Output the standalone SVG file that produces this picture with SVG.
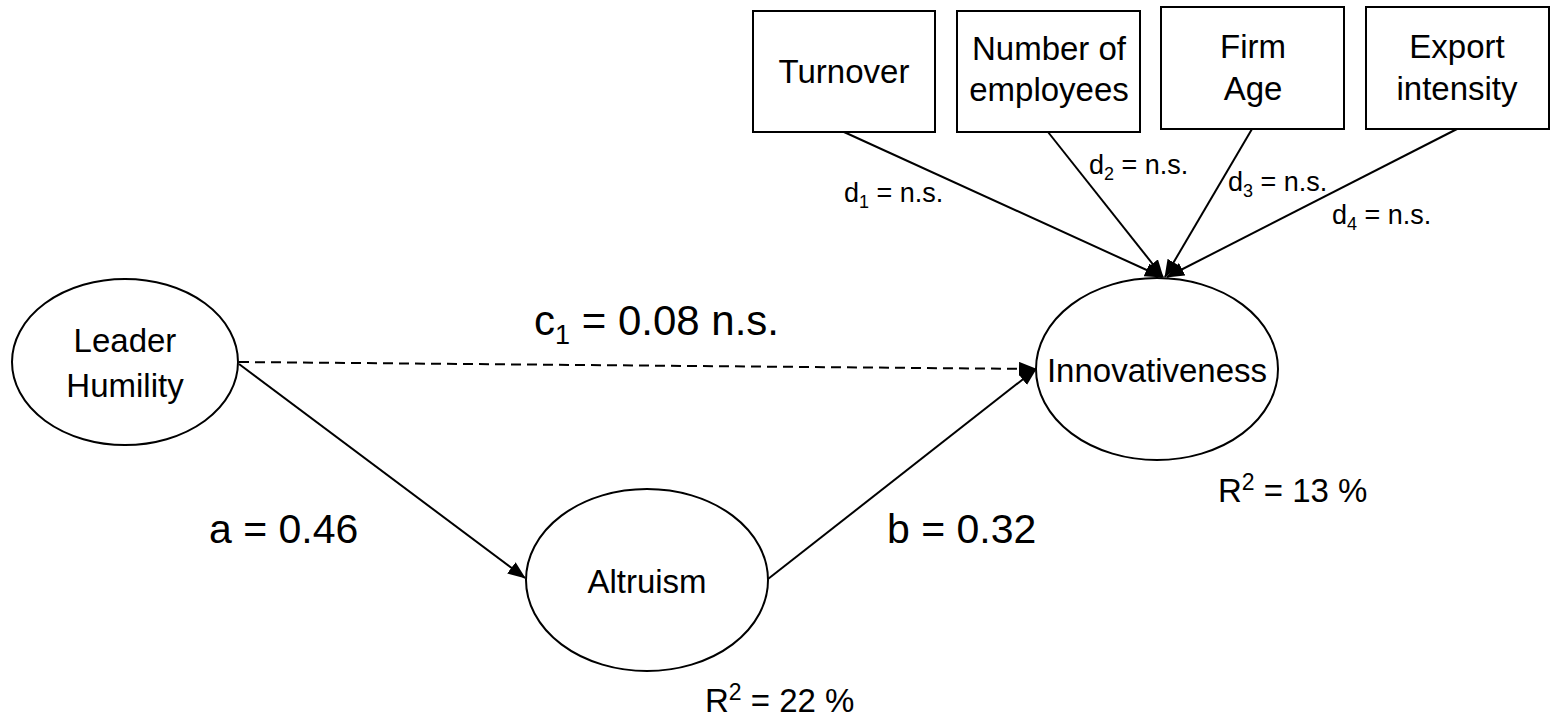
<svg xmlns="http://www.w3.org/2000/svg" width="1556" height="721" viewBox="0 0 1556 721">
<style>
  .box { fill: #fff; stroke: #000; stroke-width: 2; }
  .ell { fill: #fff; stroke: #000; stroke-width: 2; }
  .node { font-family: "Liberation Sans", Arial, sans-serif; font-size: 33px; fill: #000; text-anchor: middle; }
  .lbl { font-family: "Liberation Sans", Arial, sans-serif; fill: #000; }
  .edge { stroke: #000; stroke-width: 2; fill: none; marker-end: url(#arrow); }
  .dash { stroke-dasharray: 10 6; }
</style>
<defs>
  <marker id="arrow" markerUnits="userSpaceOnUse" viewBox="0 0 18 14" markerWidth="18" markerHeight="14" refX="17" refY="7" orient="auto">
    <path d="M0,0 L18,7 L0,14 z" fill="#000" stroke="none"/>
  </marker>
</defs>
<rect width="1556" height="721" fill="#fff"/>

<g id="connectors">
  <line class="edge dash" x1="239" y1="362" x2="1036" y2="369"/>
  <line class="edge" x1="239" y1="364" x2="525" y2="578"/>
  <line class="edge" x1="768" y1="579" x2="1036" y2="369"/>
  <line class="edge" x1="844" y1="132" x2="1162" y2="277"/>
  <line class="edge" x1="1048" y1="132" x2="1163" y2="277"/>
  <line class="edge" x1="1252" y1="129" x2="1165" y2="277"/>
  <line class="edge" x1="1457" y1="129" x2="1167" y2="277"/>
</g>

<g id="node-turnover">
  <rect class="box" x="753" y="11" width="182" height="121"/>
  <text class="node" x="844" y="83">Turnover</text>
</g>
<g id="node-employees">
  <rect class="box" x="957" y="11" width="183" height="121"/>
  <text class="node" x="1049" y="60">Number of</text>
  <text class="node" x="1049" y="101">employees</text>
</g>
<g id="node-firmage">
  <rect class="box" x="1161" y="7" width="183" height="122"/>
  <text class="node" x="1253" y="58">Firm</text>
  <text class="node" x="1253" y="100">Age</text>
</g>
<g id="node-export">
  <rect class="box" x="1366" y="7" width="183" height="122"/>
  <text class="node" x="1457" y="58">Export</text>
  <text class="node" x="1457" y="100">intensity</text>
</g>

<g id="node-leader">
  <ellipse class="ell" cx="125" cy="362" rx="113" ry="83"/>
  <text class="node" x="125" y="352">Leader</text>
  <text class="node" x="125" y="397">Humility</text>
</g>
<g id="node-altruism">
  <ellipse class="ell" cx="647" cy="580" rx="121" ry="91"/>
  <text class="node" x="647" y="593">Altruism</text>
</g>
<g id="node-innovativeness">
  <ellipse class="ell" cx="1157" cy="369" rx="121" ry="91"/>
  <text class="node" x="1157" y="382">Innovativeness</text>
</g>

<g id="labels">
  <text class="lbl" x="534" y="335" font-size="42">c<tspan font-size="27" dy="9">1</tspan><tspan dy="-9"> = 0.08 n.s.</tspan></text>
  <text class="lbl" x="209" y="543" font-size="41">a = 0.46</text>
  <text class="lbl" x="887" y="543" font-size="41">b = 0.32</text>
  <text class="lbl" x="1218" y="502" font-size="33">R<tspan font-size="23" dy="-12">2</tspan><tspan dy="12"> = 13 %</tspan></text>
  <text class="lbl" x="705" y="712" font-size="33">R<tspan font-size="23" dy="-12">2</tspan><tspan dy="12"> = 22 %</tspan></text>
  <text class="lbl" x="844" y="202" font-size="27">d<tspan font-size="18" dy="6">1</tspan><tspan dy="-6"> = n.s.</tspan></text>
  <text class="lbl" x="1089" y="174" font-size="27">d<tspan font-size="18" dy="6">2</tspan><tspan dy="-6"> = n.s.</tspan></text>
  <text class="lbl" x="1228" y="191" font-size="27">d<tspan font-size="18" dy="6">3</tspan><tspan dy="-6"> = n.s.</tspan></text>
  <text class="lbl" x="1332" y="224" font-size="27">d<tspan font-size="18" dy="6">4</tspan><tspan dy="-6"> = n.s.</tspan></text>
</g>
</svg>
